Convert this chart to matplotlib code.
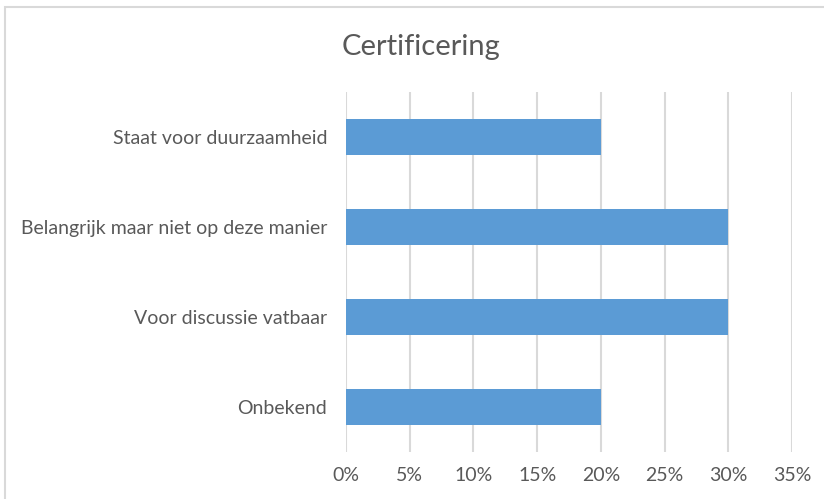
import matplotlib
matplotlib.use("Agg")
import matplotlib.pyplot as plt
from matplotlib.patches import Rectangle
from matplotlib.ticker import FuncFormatter

categories = ["Staat voor duurzaamheid", "Belangrijk maar niet op deze manier",
              "Voor discussie vatbaar", "Onbekend"]
values = [0.20, 0.30, 0.30, 0.20]
xticks = [0, 0.05, 0.10, 0.15, 0.20, 0.25, 0.30, 0.35]

plt.rcParams['font.family'] = ['Lato', 'DejaVu Sans']
txt = '#595959'
grid = '#D9D9D9'

fig = plt.figure(figsize=(8.24, 4.99), dpi=100)
fig.patches.append(Rectangle((5/824, -0.1), 1.0, (499-7)/499 + 0.1, transform=fig.transFigure,
                             fill=False, edgecolor='#D9D9D9', linewidth=1.5))
ax = fig.add_axes([346/824, 47/499, (792-346)/824, (452-92)/499])
ypos = list(range(len(categories)))[::-1]
ax.barh(ypos, values, height=0.4, color='#5B9BD5')
ax.set_xlim(0, 0.35)
ax.set_ylim(-0.5, len(categories) - 0.5)
ax.set_xticks(xticks)
ax.xaxis.set_major_formatter(FuncFormatter(lambda v, p: f"{v*100:.0f}%"))
ax.set_yticks(ypos)
ax.set_yticklabels(categories)
ax.grid(axis='x', color=grid, linewidth=1.5)
ax.set_axisbelow(True)
for s in ax.spines.values():
    s.set_visible(False)
ax.tick_params(axis='both', length=0, colors=txt, labelsize=14)
ax.tick_params(axis='y', pad=13.5)
ax.tick_params(axis='x', pad=11)
fig.text(421/824, 1 - 47/499, "Certificering", ha='center', va='center',
         fontsize=21, color=txt)
fig.savefig("out.png", dpi=100)
